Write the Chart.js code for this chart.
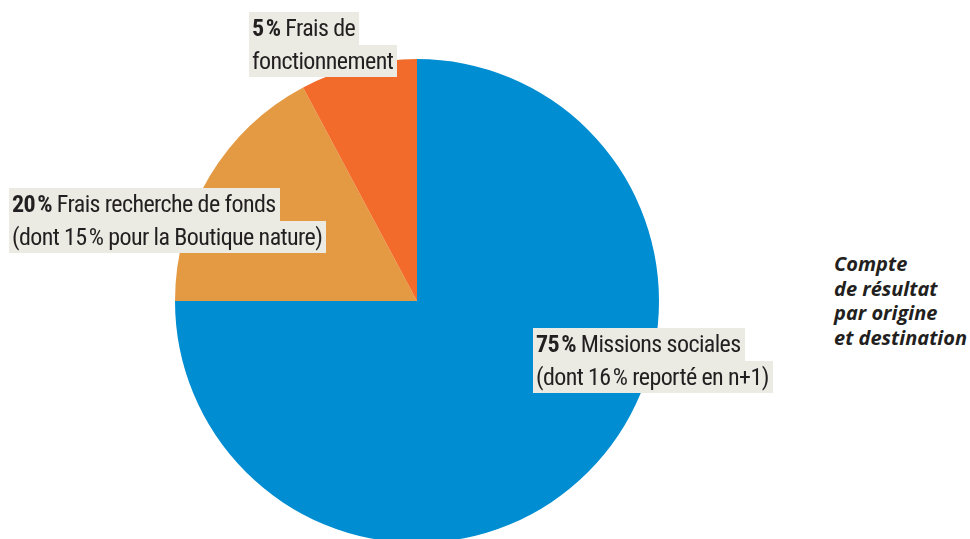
<!DOCTYPE html>
<html lang="fr">
<head>
<meta charset="utf-8">
<script src="https://cdn.jsdelivr.net/npm/chart.js@4"></script>
<style>
    html, body { margin: 0; padding: 0; background: #fff; }
    body { width: 970px; height: 539px; overflow: hidden; position: relative; }
    #pie { position: absolute; left: 175px; top: 59px; width: 484px; height: 484px; }
    .lbl { position: absolute; font-family: "Liberation Sans Narrow", "Roboto Condensed", "Roboto", sans-serif;
           font-size: 24px; letter-spacing: -0.6px; color: #231f20; }
    .lbl div { width: fit-content; background: #ebeae3; padding: 0 4px 0 3px; height: 32.5px; line-height: 32.5px;
               white-space: nowrap; }
    .lbl b { font-weight: 700; }
    #title { position: absolute; left: 834px; top: 252px; font-family: "Open Sans", sans-serif; font-weight: 700;
             font-style: italic; font-size: 20px; line-height: 24.7px; color: #231f20; }
</style>
</head>
<body>
<div id="pie"><canvas id="cvs"></canvas></div>
<div id="title"></div>
<script>
    'use strict';

    // slices as drawn (angles), clockwise from 12 o'clock
    const categories = ['Missions sociales', 'Frais recherche de fonds', 'Frais de fonctionnement'];
    const shares = [75, 17.2, 7.8];
    const colors = ['#008dd2', '#e39a42', '#f26b2b'];

    // printed labels
    const pctLabels = ['75', '20', '5'];
    const firstLines = ['Missions sociales', 'Frais recherche de fonds', 'Frais de'];
    const secondLines = ['(dont 16\u202F% reporté en n+1)', '(dont 15\u202F% pour la Boutique nature)', 'fonctionnement'];
    const labelPos = [[533, 328], [9, 188], [249, 12]];

    const titleLines = ['Compte', 'de résultat', 'par origine', 'et destination'];

    document.getElementById('title').innerHTML = titleLines.join('<br>');

    categories.forEach((_c, i) => {
        const box = document.createElement('div');
        box.className = 'lbl';
        box.style.left = labelPos[i][0] + 'px';
        box.style.top = labelPos[i][1] + 'px';
        box.innerHTML = '<div><b>' + pctLabels[i] + '\u202F%</b> ' + firstLines[i] + '</div>'
            + '<div>' + secondLines[i] + '</div>';
        document.body.appendChild(box);
    });

    new Chart(document.getElementById('cvs'), {
        type: 'pie',
        data: {
            labels: categories,
            datasets: [{
                data: shares,
                backgroundColor: colors,
                borderWidth: 0
            }]
        },
        options: {
            responsive: true,
            maintainAspectRatio: false,
            animation: false,
            layout: { padding: 0 },
            plugins: {
                legend: { display: false },
                tooltip: { enabled: false }
            }
        }
    });
</script>
</body>
</html>
